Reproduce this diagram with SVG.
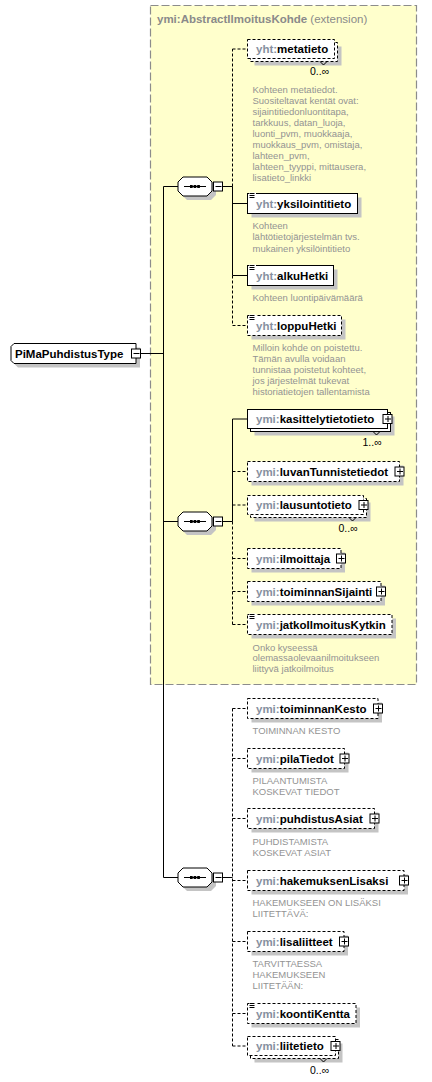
<svg xmlns="http://www.w3.org/2000/svg" xmlns:xlink="http://www.w3.org/1999/xlink" width="432" height="1082" viewBox="0 0 432 1082">
<style>
.bx{fill:#fff;stroke:#000;stroke-width:1}
.op{stroke-dasharray:3,2}
.sh{fill:#c4c4c4;stroke:none}
.n{font-family:"Liberation Sans",Arial,sans-serif;font-weight:bold;font-size:11.5px;fill:#000}
.p{fill:#8690a0}
.d{font-family:"Liberation Sans",Arial,sans-serif;font-size:9.5px;fill:#939393}
.m{font-family:"Liberation Sans",Arial,sans-serif;font-size:10.5px;fill:#000}
.c{fill:none;stroke:#000;stroke-width:1}
.cd{fill:none;stroke:#000;stroke-width:1;stroke-dasharray:3,2}
.ic{stroke:#000;stroke-width:1}
</style>
<defs>
<g id="plus"><rect x="0.5" y="0.5" width="9" height="9" fill="#fff" stroke="#000"/><path d="M2.5,5H8.5M5.5,2V8" stroke="#000"/></g>
<g id="minus"><rect x="0.5" y="0.5" width="9" height="9" fill="#fff" stroke="#000"/><path d="M2.5,5H8.5" stroke="#000"/></g>
<g id="seqSym">
<polygon class="sh" points="9,-5.5 33,-5.5 38,-0.5 38,8.5 33,13.5 9,13.5 4,8.5 4,-0.5"/>
<polygon class="bx" points="5,-9.5 29,-9.5 34,-4.5 34,4.5 29,9.5 5,9.5 0,4.5 0,-4.5"/>
<path d="M6,0H28" stroke="#000"/>
<rect x="12" y="-1.5" width="2.7" height="3" fill="#000"/>
<rect x="15.6" y="-1.5" width="2.7" height="3" fill="#000"/>
<rect x="19.2" y="-1.5" width="2.7" height="3" fill="#000"/>
<use xlink:href="#minus" x="35" y="-5"/>
</g>
<g id="icon"><rect x="1.5" y="0.5" width="7" height="6" fill="#fff"/><path d="M2,1.5H7M2,3.5H7M2,5.5H7" class="ic"/></g>
</defs>

<g id="extension">
<rect x="150.5" y="5.5" width="266" height="679" fill="#ffffcc" stroke="#8c8c8c" stroke-width="1.2" stroke-dasharray="8,3"/>
<text x="157" y="23" class="n" style="fill:#8a8a8a">ymi:AbstractIlmoitusKohde<tspan style="font-weight:normal"> (extension)</tspan></text>
</g>

<g id="connectors">
<path class="c" d="M163.5,186.5V877.5M140.5,353.5H163.5M163.5,186.5H178M163.5,521.5H178M163.5,877.5H178"/>
<path class="c" d="M222.5,186.5H232.5M232.5,186.5V275.5M232.5,203.5H247.5M232.5,275.5H247.5"/>
<path class="cd" d="M232.5,186.5V49M232.5,49H247.5M232.5,275.5V325.5M232.5,325.5H247.5"/>
<path class="c" d="M222.5,521.5H232.5M232.5,419V521.5M232.5,419H247.5"/>
<path class="cd" d="M232.5,521.5V624.5M232.5,471.5H247.5M232.5,505H247.5M232.5,558.5H247.5M232.5,591.5H247.5M232.5,624.5H247.5"/>
<path class="c" d="M222.5,877.5H232.5"/>
<path class="cd" d="M232.5,708.5V1046M232.5,708.5H247.5M232.5,758.5H247.5M232.5,818.5H247.5M232.5,880.5H247.5M232.5,941.5H247.5M232.5,1013.5H247.5M232.5,1046H247.5"/>
</g>

<g id="PiMaPuhdistusType">
<polygon class="sh" points="18,347.5 140,347.5 140,367.5 18,367.5 15,364.5 15,350.5"/>
<polygon class="bx" points="14,343.5 136,343.5 136,363.5 14,363.5 11,360.5 11,346.5"/>
<text x="15" y="358" class="n">PiMaPuhdistusType</text>
<use xlink:href="#minus" x="131" y="348.5"/>
</g>

<g id="seq1" transform="translate(178,186.5)"><use xlink:href="#seqSym"/></g>
<g id="seq2" transform="translate(178,521.5)"><use xlink:href="#seqSym"/></g>
<g id="seq3" transform="translate(178,877.5)"><use xlink:href="#seqSym"/></g>

<g id="metatieto">
<rect class="sh" x="254.5" y="46.5" width="87" height="19"/>
<rect class="bx op" x="250.5" y="42.5" width="87" height="19"/>
<rect class="bx op" x="247.5" y="39.5" width="87" height="19"/>
<path d="M320,61.5l3.5,3.5l3.5,-3.5" class="c"/>
<text x="256" y="52.5" class="n"><tspan class="p">yht:</tspan>metatieto</text>
<text x="310" y="75" class="m">0..∞</text>
<text class="d"><tspan x="252.5" y="92.5">Kohteen metatiedot.</tspan><tspan x="252.5" y="103.5">Suositeltavat kentät ovat:</tspan><tspan x="252.5" y="114.5">sijaintitiedonluontitapa,</tspan><tspan x="252.5" y="125.5">tarkkuus, datan_luoja,</tspan><tspan x="252.5" y="136.5">luonti_pvm, muokkaaja,</tspan><tspan x="252.5" y="147.5">muokkaus_pvm, omistaja,</tspan><tspan x="252.5" y="158.5">lahteen_pvm,</tspan><tspan x="252.5" y="169.5">lahteen_tyyppi, mittausera,</tspan><tspan x="252.5" y="180.5">lisatieto_linkki</tspan></text>
</g>

<g id="yksilointitieto">
<rect class="sh" x="251.5" y="197.5" width="110" height="20"/>
<rect class="bx" x="247.5" y="193.5" width="110" height="20"/>
<use xlink:href="#icon" x="247.5" y="192"/>
<text x="256" y="207.5" class="n"><tspan class="p">yht:</tspan>yksilointitieto</text>
<text class="d"><tspan x="252.5" y="229">Kohteen</tspan><tspan x="252.5" y="240.3">lähtötietojärjestelmän  tvs.</tspan><tspan x="252.5" y="251.5">mukainen yksilöintitieto</tspan></text>
</g>

<g id="alkuHetki">
<rect class="sh" x="251.5" y="269.5" width="86" height="20"/>
<rect class="bx" x="247.5" y="265.5" width="86" height="20"/>
<use xlink:href="#icon" x="247.5" y="264"/>
<text x="256" y="279.5" class="n"><tspan class="p">yht:</tspan>alkuHetki</text>
<text x="252.5" y="300.8" class="d">Kohteen luontipäivämäärä</text>
</g>

<g id="loppuHetki">
<rect class="sh" x="251.5" y="319.5" width="94" height="20"/>
<rect class="bx op" x="247.5" y="315.5" width="94" height="20"/>
<use xlink:href="#icon" x="247.5" y="314"/>
<text x="256" y="329.5" class="n"><tspan class="p">yht:</tspan>loppuHetki</text>
<text class="d"><tspan x="252.5" y="351.2">Milloin kohde on poistettu.</tspan><tspan x="252.5" y="362.2">Tämän avulla voidaan</tspan><tspan x="252.5" y="373.4">tunnistaa poistetut kohteet,</tspan><tspan x="252.5" y="384.4">jos järjestelmät tukevat</tspan><tspan x="252.5" y="395.2">historiatietojen tallentamista</tspan></text>
</g>

<g id="kasittelytietotieto">
<rect class="sh" x="254.5" y="416.5" width="140" height="19"/>
<rect class="bx" x="250.5" y="412.5" width="140" height="19"/>
<rect class="bx" x="247.5" y="409.5" width="140" height="19"/>
<path d="M373,431.5l3.5,3.5l3.5,-3.5" class="c"/>
<text x="256" y="422.5" class="n"><tspan class="p">ymi:</tspan>kasittelytietotieto</text>
<use xlink:href="#plus" x="382.5" y="414"/>
<text x="362.5" y="446" class="m">1..∞</text>
</g>

<g id="luvanTunnistetiedot">
<rect class="sh" x="251.5" y="465.5" width="152" height="20"/>
<rect class="bx op" x="247.5" y="461.5" width="152" height="20"/>
<text x="256" y="475.5" class="n"><tspan class="p">ymi:</tspan>luvanTunnistetiedot</text>
<use xlink:href="#plus" x="394.5" y="466.5"/>
</g>

<g id="lausuntotieto">
<rect class="sh" x="254.5" y="502.5" width="116" height="19"/>
<rect class="bx op" x="250.5" y="498.5" width="116" height="19"/>
<rect class="bx op" x="247.5" y="495.5" width="116" height="19"/>
<path d="M349,517.5l3.5,3.5l3.5,-3.5" class="c"/>
<text x="256" y="508.5" class="n"><tspan class="p">ymi:</tspan>lausuntotieto</text>
<use xlink:href="#plus" x="358.5" y="500"/>
<text x="338.5" y="532" class="m">0..∞</text>
</g>

<g id="ilmoittaja">
<rect class="sh" x="251.5" y="552.5" width="93.5" height="20"/>
<rect class="bx op" x="247.5" y="548.5" width="93.5" height="20"/>
<text x="256" y="562.5" class="n"><tspan class="p">ymi:</tspan>ilmoittaja</text>
<use xlink:href="#plus" x="336" y="553.5"/>
</g>

<g id="toiminnanSijainti">
<rect class="sh" x="251.5" y="585.5" width="133.5" height="20"/>
<rect class="bx op" x="247.5" y="581.5" width="133.5" height="20"/>
<text x="256" y="595.5" class="n"><tspan class="p">ymi:</tspan>toiminnanSijainti</text>
<use xlink:href="#plus" x="376" y="586.5"/>
</g>

<g id="jatkoIlmoitusKytkin">
<rect class="sh" x="251.5" y="618.5" width="144.5" height="20"/>
<rect class="bx op" x="247.5" y="614.5" width="144.5" height="20"/>
<use xlink:href="#icon" x="247.5" y="613"/>
<text x="256" y="628.5" class="n"><tspan class="p">ymi:</tspan>jatkoIlmoitusKytkin</text>
<text class="d"><tspan x="252.5" y="650.8">Onko kyseessä</tspan><tspan x="252.5" y="661.3">olemassaolevaanilmoitukseen</tspan><tspan x="252.5" y="671.8">liittyvä jatkoilmoitus</tspan></text>
</g>

<g id="toiminnanKesto">
<rect class="sh" x="251.5" y="702.5" width="130.5" height="20"/>
<rect class="bx op" x="247.5" y="698.5" width="130.5" height="20"/>
<text x="256" y="712.5" class="n"><tspan class="p">ymi:</tspan>toiminnanKesto</text>
<use xlink:href="#plus" x="373" y="703.5"/>
<text x="252.5" y="734" class="d">TOIMINNAN KESTO</text>
</g>

<g id="pilaTiedot">
<rect class="sh" x="251.5" y="752.5" width="97" height="20"/>
<rect class="bx op" x="247.5" y="748.5" width="97" height="20"/>
<text x="256" y="762.5" class="n"><tspan class="p">ymi:</tspan>pilaTiedot</text>
<use xlink:href="#plus" x="339.5" y="753.5"/>
<text class="d"><tspan x="252.5" y="784">PILAANTUMISTA</tspan><tspan x="252.5" y="795">KOSKEVAT TIEDOT</tspan></text>
</g>

<g id="puhdistusAsiat">
<rect class="sh" x="251.5" y="812.5" width="127" height="20"/>
<rect class="bx op" x="247.5" y="808.5" width="127" height="20"/>
<text x="256" y="822.5" class="n"><tspan class="p">ymi:</tspan>puhdistusAsiat</text>
<use xlink:href="#plus" x="369.5" y="813.5"/>
<text class="d"><tspan x="252.5" y="845">PUHDISTAMISTA</tspan><tspan x="252.5" y="856">KOSKEVAT ASIAT</tspan></text>
</g>

<g id="hakemuksenLisaksi">
<rect class="sh" x="251.5" y="874.5" width="156.5" height="20"/>
<rect class="bx op" x="247.5" y="870.5" width="156.5" height="20"/>
<text x="256" y="884.5" class="n"><tspan class="p">ymi:</tspan>hakemuksenLisaksi</text>
<use xlink:href="#plus" x="399" y="875.5"/>
<text class="d"><tspan x="252.5" y="906">HAKEMUKSEEN ON LISÄKSI</tspan><tspan x="252.5" y="917">LIITETTÄVÄ:</tspan></text>
</g>

<g id="lisaliitteet">
<rect class="sh" x="251.5" y="935.5" width="96.5" height="20"/>
<rect class="bx op" x="247.5" y="931.5" width="96.5" height="20"/>
<text x="256" y="945.5" class="n"><tspan class="p">ymi:</tspan>lisaliitteet</text>
<use xlink:href="#plus" x="339" y="936.5"/>
<text class="d"><tspan x="252.5" y="967">TARVITTAESSA</tspan><tspan x="252.5" y="978">HAKEMUKSEEN</tspan><tspan x="252.5" y="989">LIITETÄÄN:</tspan></text>
</g>

<g id="koontiKentta">
<rect class="sh" x="251.5" y="1007.5" width="108.5" height="20"/>
<rect class="bx op" x="247.5" y="1003.5" width="108.5" height="20"/>
<use xlink:href="#icon" x="247.5" y="1002"/>
<text x="256" y="1017.5" class="n"><tspan class="p">ymi:</tspan>koontiKentta</text>
</g>

<g id="liitetieto">
<rect class="sh" x="254.5" y="1043.5" width="88" height="19"/>
<rect class="bx op" x="250.5" y="1039.5" width="88" height="19"/>
<rect class="bx op" x="247.5" y="1036.5" width="88" height="19"/>
<path d="M320,1058.5l3.5,3.5l3.5,-3.5" class="c"/>
<text x="256" y="1049.5" class="n"><tspan class="p">ymi:</tspan>liitetieto</text>
<use xlink:href="#plus" x="330.5" y="1041"/>
<text x="310" y="1074" class="m">0..∞</text>
</g>
</svg>
